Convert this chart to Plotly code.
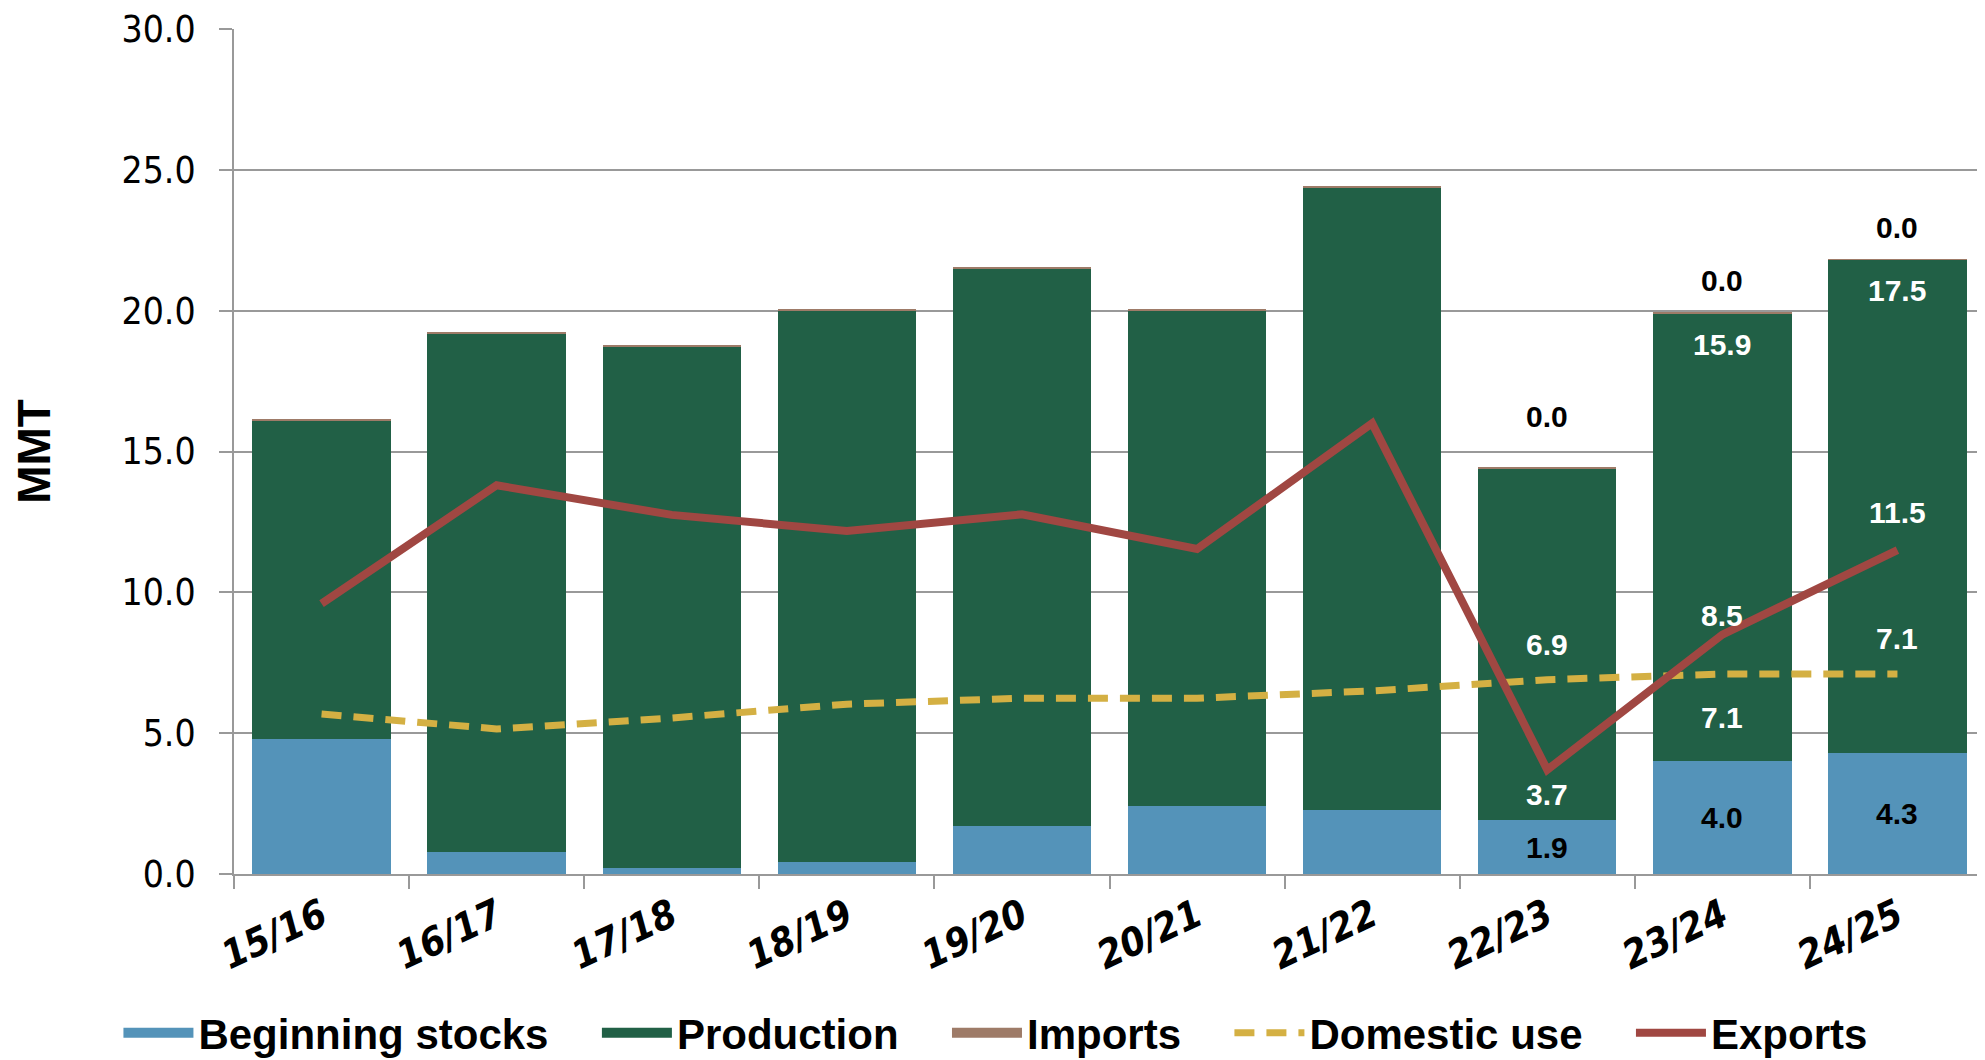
import plotly.graph_objects as go

# ---------------- data ----------------
years = ["15/16", "16/17", "17/18", "18/19", "19/20", "20/21", "21/22", "22/23", "23/24", "24/25"]
beginning_stocks = [4.8, 0.78, 0.22, 0.42, 1.7, 2.42, 2.29, 1.9, 4.0, 4.3]
production = [11.3, 18.4, 18.5, 19.6, 19.8, 17.6, 22.1, 12.5, 15.9, 17.5]
imports = [0.03, 0.03, 0.03, 0.03, 0.03, 0.03, 0.03, 0.03, 0.03, 0.03]
domestic_use = [5.68, 5.15, 5.54, 6.03, 6.24, 6.24, 6.5, 6.9, 7.1, 7.1]
exports = [9.6, 13.8, 12.75, 12.18, 12.77, 11.54, 16.0, 3.7, 8.5, 11.5]
y_ticks = [0, 5, 10, 15, 20, 25, 30]

# which years carry data labels
stock_label_years = ["22/23", "23/24", "24/25"]
prod_label_years = ["23/24", "24/25"]
import_label_years = ["22/23", "23/24", "24/25"]
line_label_years = ["22/23", "23/24", "24/25"]

# ---------------- styles ----------------
C_STOCK = "#5493B9"
C_PROD = "#216046"
C_IMP = "#9E7B68"
C_DOM = "#D4B043"
C_EXP = "#A04742"
GRID = "#999999"
SANS = "Liberation Sans, Arial, sans-serif"
COND = "DejaVu Sans Condensed, Liberation Sans, sans-serif"

imp_shift = {"22/23": 51, "23/24": 32, "24/25": 32}
exp_shift = {"22/23": -25, "23/24": 19, "24/25": 38}
dom_shift = {"22/23": 35, "23/24": -43, "24/25": 36}
PAD = "\u00a0" * 3 + "\u2009"

fig = go.Figure()

fig.add_trace(go.Bar(x=years, y=beginning_stocks, name="Beginning stocks",
                     marker=dict(color=C_STOCK, line=dict(width=0)),
                     showlegend=False, legendgroup="stocks"))
fig.add_trace(go.Bar(x=years, y=production, name="Production",
                     marker=dict(color=C_PROD, line=dict(width=0)),
                     showlegend=False, legendgroup="prod"))
fig.add_trace(go.Bar(x=years, y=imports, name="Imports",
                     marker=dict(color=C_IMP, line=dict(width=0)),
                     showlegend=False, legendgroup="imp"))
fig.add_trace(go.Scatter(x=years, y=domestic_use, name="Domestic use", mode="lines",
                         line=dict(color=C_DOM, width=7, dash="20px,12px"),
                         showlegend=False, legendgroup="dom"))
fig.add_trace(go.Scatter(x=years, y=exports, name="Exports", mode="lines",
                         line=dict(color=C_EXP, width=8),
                         showlegend=False, legendgroup="exp"))

# legend entries (wide swatches like the reference)
legend_items = [
    ("Beginning stocks", C_STOCK, 22, "solid", "stocks"),
    ("Production", C_PROD, 22, "solid", "prod"),
    ("Imports", C_IMP, 22, "solid", "imp"),
    ("Domestic use", C_DOM, 7, "20px,12px", "dom"),
    ("Exports", C_EXP, 8, "solid", "exp"),
]
for k, (name, color, width, dash, grp) in enumerate(legend_items):
    fig.add_trace(go.Scatter(x=[None], y=[None], mode="lines",
                             name=name + (PAD if k < len(legend_items) - 1 else ""),
                             line=dict(color=color, width=width, dash=dash),
                             legendgroup=grp, showlegend=True, hoverinfo="skip"))

# ---------------- data labels ----------------
def lab(x, y, text, color, shift=0):
    fig.add_annotation(x=x, y=y, text=text, showarrow=False, yshift=shift,
                       font=dict(family=SANS, size=30, color=color, weight="bold"))

for i, yr in enumerate(years):
    total = beginning_stocks[i] + production[i] + imports[i]
    if yr in stock_label_years:
        lab(yr, beginning_stocks[i] / 2, f"{beginning_stocks[i]:.1f}", "black")
    if yr in prod_label_years:
        lab(yr, beginning_stocks[i] + production[i], f"{production[i]:.1f}", "white", -31)
    if yr in import_label_years:
        lab(yr, total, f"{imports[i]:.1f}", "black", imp_shift[yr])
    if yr in line_label_years:
        lab(yr, exports[i], f"{exports[i]:.1f}", "white", exp_shift[yr])
        lab(yr, domestic_use[i], f"{domestic_use[i]:.1f}", "white", dom_shift[yr])

# the page adds an 8px body margin, so the figure is 8px smaller than the window
fig.update_layout(
    barmode="stack",
    bargap=0.21,
    width=1977, height=1052,
    margin=dict(l=226, r=0, t=21, b=186, autoexpand=False),
    plot_bgcolor="white", paper_bgcolor="white",
    showlegend=True,
    legend=dict(orientation="h", x=-0.066, xanchor="left", y=-0.188, yanchor="middle",
                itemwidth=70,
                font=dict(family=SANS, size=42, color="black", weight="bold")),
)

fig.update_xaxes(
    type="category", range=[-0.5, 9.5], automargin=False,
    showline=True, linecolor=GRID, linewidth=2,
    ticks="outside", tickson="boundaries", ticklen=13, tickwidth=2, tickcolor=GRID,
    tickangle=-25, ticklabelstandoff=2,
    tickfont=dict(family=COND, size=39, color="black", weight="bold", style="italic"),
    showgrid=False,
)
fig.update_yaxes(
    range=[0, 30], tickvals=y_ticks, tickformat=".1f", automargin=False,
    ticklabeloverflow="allow",
    showline=True, linecolor=GRID, linewidth=2,
    ticks="outside", ticklen=13, tickwidth=2, tickcolor=GRID,
    ticklabelstandoff=16,
    tickfont=dict(family=COND, size=37, color="black"),
    showgrid=True, gridcolor=GRID, gridwidth=2,
    zeroline=False,
    title=dict(text="MMT", standoff=89,
               font=dict(family=SANS, size=46, color="black", weight="bold")),
)

fig.write_html("out.html")
